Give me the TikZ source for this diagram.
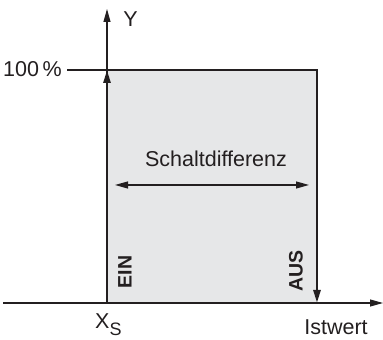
\documentclass[tikz,border=0pt]{standalone}
\usepackage{fontspec}
\setmainfont{Liberation Sans}
\usetikzlibrary{arrows.meta}
\definecolor{fillgray}{HTML}{E6E7E8}
\definecolor{ink}{HTML}{231F20}
\tikzset{
  thin axis/.style={line width=1.1pt, draw=ink},
  thick edge/.style={line width=2.6pt, draw=ink},
  tip/.style={-{Triangle[length=13pt,width=7pt]}},
  lbl/.style={inner sep=0pt, font=\fontsize{21.5}{24}\selectfont, text=ink},
  vlbl/.style={inner sep=0pt, font=\fontsize{19.5}{22}\selectfont\bfseries, text=ink, rotate=90}
}
\begin{document}
\begin{tikzpicture}[x=1pt,y=1pt]
\useasboundingbox (0,0) rectangle (383,340);
% coordinates
\coordinate (origin) at (107,37);
\coordinate (ytop) at (107,331);
\coordinate (xleft) at (3,37);
\coordinate (xright) at (383,37);
\coordinate (thickstart) at (38,37);
\coordinate (refstart) at (67,270);
\coordinate (ein) at (107,270);
\coordinate (aus) at (317,270);
\coordinate (ausbot) at (317,37);
\coordinate (dl) at (115,155);
\coordinate (dr) at (309,155);
% gray area
\fill[fillgray] (origin) rectangle (aus);
% axes
\draw[thin axis, tip] (xleft) -- (xright);
\draw[thin axis, tip] (origin) -- (ytop);
\draw[thin axis] (refstart) -- (ein);
\draw[line width=2pt, draw=ink] (thickstart) -- (origin);
% edges
\draw[thick edge, line cap=rect] (ein) -- (aus);
\draw[thick edge, tip] (origin) -- (ein);
\draw[thick edge, tip] (aus) -- (ausbot);
% Schaltdifferenz
\draw[line width=1.2pt, draw=ink, {Triangle[length=13pt,width=7pt]}-{Triangle[length=13pt,width=7pt]}] (dl) -- (dr);
% labels
\node[lbl, anchor=base] (ylab) at (130.5,313) {Y};
\node[lbl, anchor=base east] (hundred) at (62,263) {100\,\%};
\node[lbl, anchor=base] (schalt) at (216,173) {Schaltdifferenz};
\node[vlbl] (einlab) at (125,68) {EIN};
\node[vlbl] (auslab) at (296,69) {AUS};
\node[lbl, anchor=base west] (xs) at (95,11) {X\raisebox{-0.3em}{\fontsize{18}{20}\selectfont S}};
\node[lbl, anchor=base] (ist) at (336,5) {Istwert};
\end{tikzpicture}
\end{document}
